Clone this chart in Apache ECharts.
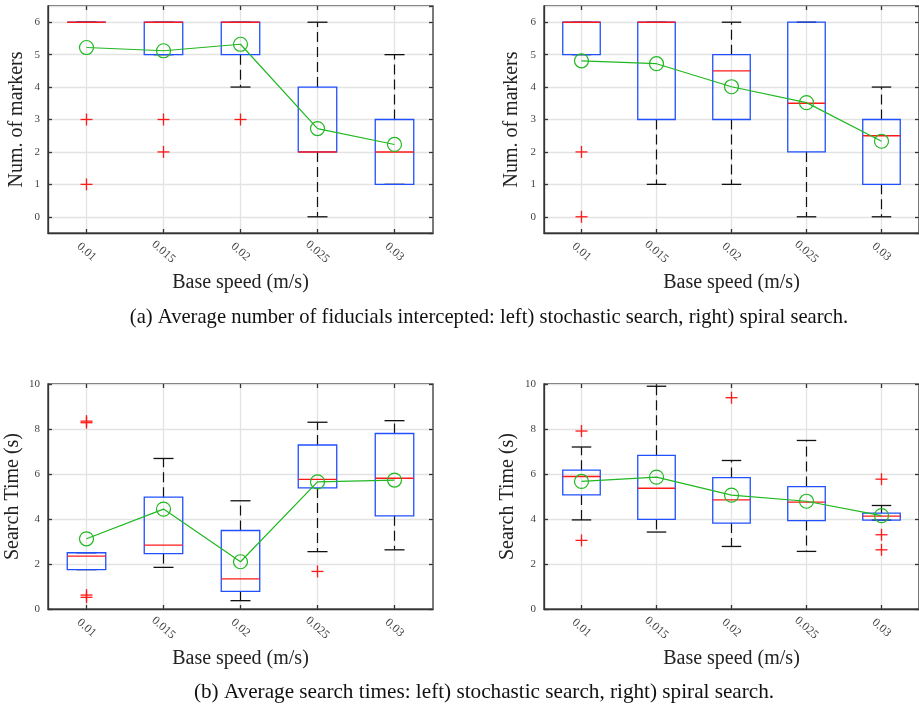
<!DOCTYPE html>
<html>
<head>
<meta charset="utf-8">
<script src="https://cdn.jsdelivr.net/npm/echarts@6/dist/echarts.min.js"></script>
<style>html,body{margin:0;padding:0;background:#fff;}#c{width:919px;height:704px;}</style>
</head>
<body>
<div id="c"></div>
<script>
// ---- data ----
const categories = ['0.01', '0.015', '0.02', '0.025', '0.03'];

// (a) left: stochastic search, number of markers
const aLeftLow  = [6, 5, 4, 0, 1];
const aLeftQ1   = [6, 5, 5, 2, 1];
const aLeftMed  = [6, 6, 6, 2, 2];
const aLeftQ3   = [6, 6, 6, 4, 3];
const aLeftHigh = [6, 6, 6, 6, 5];
const aLeftMean = [5.22, 5.12, 5.32, 2.72, 2.23];
const aLeftOut  = [[0, 3], [0, 1], [1, 3], [1, 2], [2, 3]];

// (a) right: spiral search, number of markers
const aRightLow  = [5, 1, 1, 0, 0];
const aRightQ1   = [5, 3, 3, 2, 1];
const aRightMed  = [6, 6, 4.5, 3.5, 2.5];
const aRightQ3   = [6, 6, 5, 6, 3];
const aRightHigh = [6, 6, 6, 6, 4];
const aRightMean = [4.81, 4.72, 4.01, 3.52, 2.33];
const aRightOut  = [[0, 2], [0, 0]];

// (b) left: stochastic search, search time
const bLeftLow  = [1.75, 1.85, 0.37, 2.55, 2.63];
const bLeftQ1   = [1.75, 2.46, 0.78, 5.38, 4.14];
const bLeftMed  = [2.35, 2.84, 1.34, 5.76, 5.81];
const bLeftQ3   = [2.50, 4.97, 3.49, 7.29, 7.80];
const bLeftHigh = [2.50, 6.69, 4.81, 8.30, 8.37];
const bLeftMean = [3.12, 4.44, 2.10, 5.65, 5.73];
const bLeftOut  = [[0, 8.35], [0, 8.28], [0, 0.62], [0, 0.52], [3, 1.67]];

// (b) right: spiral search, search time
const bRightLow  = [3.96, 3.42, 2.78, 2.56, 3.95];
const bRightQ1   = [5.07, 3.98, 3.82, 3.93, 3.95];
const bRightMed  = [5.89, 5.37, 4.85, 4.75, 4.13];
const bRightQ3   = [6.17, 6.83, 5.84, 5.44, 4.26];
const bRightHigh = [7.20, 9.90, 6.60, 7.49, 4.60];
const bRightMean = [5.67, 5.86, 5.06, 4.79, 4.15];
const bRightOut  = [[0, 7.91], [0, 3.05], [2, 9.39], [4, 5.77], [4, 3.30], [4, 2.63]];

const yTicksA = [0, 1, 2, 3, 4, 5, 6];
const yTicksB = [0, 2, 4, 6, 8, 10];

const xTitle = 'Base speed (m/s)';
const yTitleA = 'Num. of markers';
const yTitleB = 'Search Time (s)';
const captionA = '(a) Average number of fiducials intercepted: left) stochastic search, right) spiral search.';
const captionB = '(b) Average search times: left) stochastic search, right) spiral search.';

// ---- styling ----
const FONT = '"Liberation Serif", "Times New Roman", serif';
const BLUE = '#2050ff';
const RED = '#ff1a1a';
const GREEN = '#20b820';
const FRAME = '#333333';
const GRIDC = '#e3e3e3';

const panels = [
  { low: aLeftLow, q1: aLeftQ1, med: aLeftMed, q3: aLeftQ3, high: aLeftHigh, mean: aLeftMean, out: aLeftOut,
    grid: { left: 48, top: 6, width: 385, height: 227 }, ymin: -0.5, ymax: 6.5, ticks: yTicksA, yTitle: yTitleA, yGap: 21 },
  { low: aRightLow, q1: aRightQ1, med: aRightMed, q3: aRightQ3, high: aRightHigh, mean: aRightMean, out: aRightOut,
    grid: { left: 544, top: 6, width: 385, height: 227 }, ymin: -0.5, ymax: 6.5, ticks: yTicksA, yTitle: yTitleA, yGap: 22 },
  { low: bLeftLow, q1: bLeftQ1, med: bLeftMed, q3: bLeftQ3, high: bLeftHigh, mean: bLeftMean, out: bLeftOut,
    grid: { left: 48, top: 384, width: 385, height: 225 }, ymin: 0, ymax: 10, ticks: yTicksB, yTitle: yTitleB, yGap: 25 },
  { low: bRightLow, q1: bRightQ1, med: bRightMed, q3: bRightQ3, high: bRightHigh, mean: bRightMean, out: bRightOut,
    grid: { left: 544, top: 384, width: 385, height: 225 }, ymin: 0, ymax: 10, ticks: yTicksB, yTitle: yTitleB, yGap: 26 }
];

const grids = [], xAxes = [], yAxes = [], series = [];

panels.forEach((p, i) => {
  grids.push(Object.assign({ show: true, borderColor: FRAME, borderWidth: 1.3, backgroundColor: 'transparent' }, p.grid));
  const tickSet = new Set(p.ticks);
  // bottom x axis
  xAxes.push({
    type: 'category', gridIndex: i, data: categories, position: 'bottom', boundaryGap: true,
    name: xTitle, nameLocation: 'middle', nameGap: 40,
    nameTextStyle: { fontFamily: FONT, fontSize: 20, color: '#222' },
    axisLine: { show: true, onZero: false, lineStyle: { color: FRAME, width: 1.3 } },
    axisTick: { show: true, inside: true, alignWithLabel: true, length: 4, lineStyle: { color: FRAME, width: 1.3 } },
    axisLabel: { rotate: -42, align: 'center', verticalAlign: 'middle', margin: 19, fontFamily: FONT, fontSize: 12, color: '#444' },
    splitLine: { show: true, alignWithLabel: true, lineStyle: { color: GRIDC, width: 1.3 } }
  });
  // top x axis (frame ticks only)
  xAxes.push({
    type: 'category', gridIndex: i, data: categories, position: 'top', boundaryGap: true,
    axisLine: { show: false, onZero: false }, axisLabel: { show: false }, splitLine: { show: false },
    axisTick: { show: true, inside: true, alignWithLabel: true, length: 4, lineStyle: { color: FRAME, width: 1.3 } }
  });
  const yCommon = {
    type: 'value', gridIndex: i, min: p.ymin, max: p.ymax
  };
  yAxes.push(Object.assign({}, yCommon, {
    position: 'left',
    name: p.yTitle, nameLocation: 'middle', nameGap: p.yGap,
    nameTextStyle: { fontFamily: FONT, fontSize: 20, color: '#222' },
    axisLine: { show: true, onZero: false, lineStyle: { color: FRAME, width: 1.3 } },
    axisTick: { show: true, inside: true, length: 4, lineStyle: { color: FRAME, width: 1.3 } },
    axisLabel: { show: true, margin: 8, fontFamily: FONT, fontSize: 11, color: '#444',
      showMinLabel: p.ymin === p.ticks[0], showMaxLabel: p.ymax === p.ticks[p.ticks.length - 1],
      formatter: v => (tickSet.has(Math.round(v * 1000) / 1000) ? String(Math.round(v * 1000) / 1000) : '') },
    splitLine: { show: true, lineStyle: { color: GRIDC, width: 1.3 } }
  }));
  yAxes.push(Object.assign({}, yCommon, {
    position: 'right',
    axisLine: { show: false, onZero: false }, axisLabel: { show: false }, splitLine: { show: false },
    axisTick: { show: true, inside: true, length: 4, lineStyle: { color: FRAME, width: 1.3 } }
  }));

  const xi = i * 2, yi = i * 2;
  const boxData = categories.map((c, k) => [k, p.low[k], p.q1[k], p.med[k], p.q3[k], p.high[k]]);

  series.push({
    type: 'custom', xAxisIndex: xi, yAxisIndex: yi, z: 3, silent: true,
    data: boxData,
    encode: { x: 0, y: [1, 2, 3, 4, 5] },
    renderItem: function (params, api) {
      const k = api.value(0);
      const band = api.size([1, 0])[0];
      const half = band * 0.25, cap = band * 0.13;
      const pl = api.coord([k, api.value(1)]);
      const p1 = api.coord([k, api.value(2)]);
      const pm = api.coord([k, api.value(3)]);
      const p3 = api.coord([k, api.value(4)]);
      const ph = api.coord([k, api.value(5)]);
      const cx = pl[0];
      const dash = { stroke: '#111', lineWidth: 1.2, lineDash: [10, 5] };
      const solid = { stroke: '#111', lineWidth: 1.3 };
      const children = [];
      if (Math.abs(pl[1] - p1[1]) > 0.5) children.push({ type: 'line', shape: { x1: cx, y1: p1[1], x2: cx, y2: pl[1] }, style: dash });
      if (Math.abs(ph[1] - p3[1]) > 0.5) children.push({ type: 'line', shape: { x1: cx, y1: p3[1], x2: cx, y2: ph[1] }, style: dash });
      children.push({ type: 'line', shape: { x1: cx - cap, y1: pl[1], x2: cx + cap, y2: pl[1] }, style: solid });
      children.push({ type: 'line', shape: { x1: cx - cap, y1: ph[1], x2: cx + cap, y2: ph[1] }, style: solid });
      children.push({ type: 'rect', shape: { x: cx - half, y: p3[1], width: half * 2, height: p1[1] - p3[1] },
        style: { fill: 'none', stroke: BLUE, lineWidth: 1.3 } });
      children.push({ type: 'line', shape: { x1: cx - half, y1: pm[1], x2: cx + half, y2: pm[1] },
        style: { stroke: RED, lineWidth: 1.4 } });
      return { type: 'group', children: children };
    }
  });

  series.push({
    type: 'custom', xAxisIndex: xi, yAxisIndex: yi, z: 4, silent: true,
    data: p.out,
    encode: { x: 0, y: 1 },
    renderItem: function (params, api) {
      const pt = api.coord([api.value(0), api.value(1)]);
      const r = 6;
      const st = { stroke: RED, lineWidth: 1.3 };
      return { type: 'group', children: [
        { type: 'line', shape: { x1: pt[0] - r, y1: pt[1], x2: pt[0] + r, y2: pt[1] }, style: st },
        { type: 'line', shape: { x1: pt[0], y1: pt[1] - r, x2: pt[0], y2: pt[1] + r }, style: st }
      ] };
    }
  });

  series.push({
    type: 'line', xAxisIndex: xi, yAxisIndex: yi, z: 5, silent: true,
    data: p.mean,
    symbol: 'circle', symbolSize: 14,
    lineStyle: { color: GREEN, width: 1.2 },
    itemStyle: { color: 'rgba(0,0,0,0)', borderColor: GREEN, borderWidth: 1.2 },
    animation: false
  });
});

const option = {
  animation: false,
  backgroundColor: '#fff',
  grid: grids, xAxis: xAxes, yAxis: yAxes, series: series,
  graphic: [
    { type: 'text', x: 489, y: 318, style: { text: captionA, font: '20.6px ' + FONT, fill: '#111', align: 'center', verticalAlign: 'middle' } },
    { type: 'text', x: 484, y: 692, style: { text: captionB, font: '21.2px ' + FONT, fill: '#111', align: 'center', verticalAlign: 'middle' } }
  ]
};

const chart = echarts.init(document.getElementById('c'), null, { renderer: 'canvas' });
chart.setOption(option);
</script>
</body>
</html>
